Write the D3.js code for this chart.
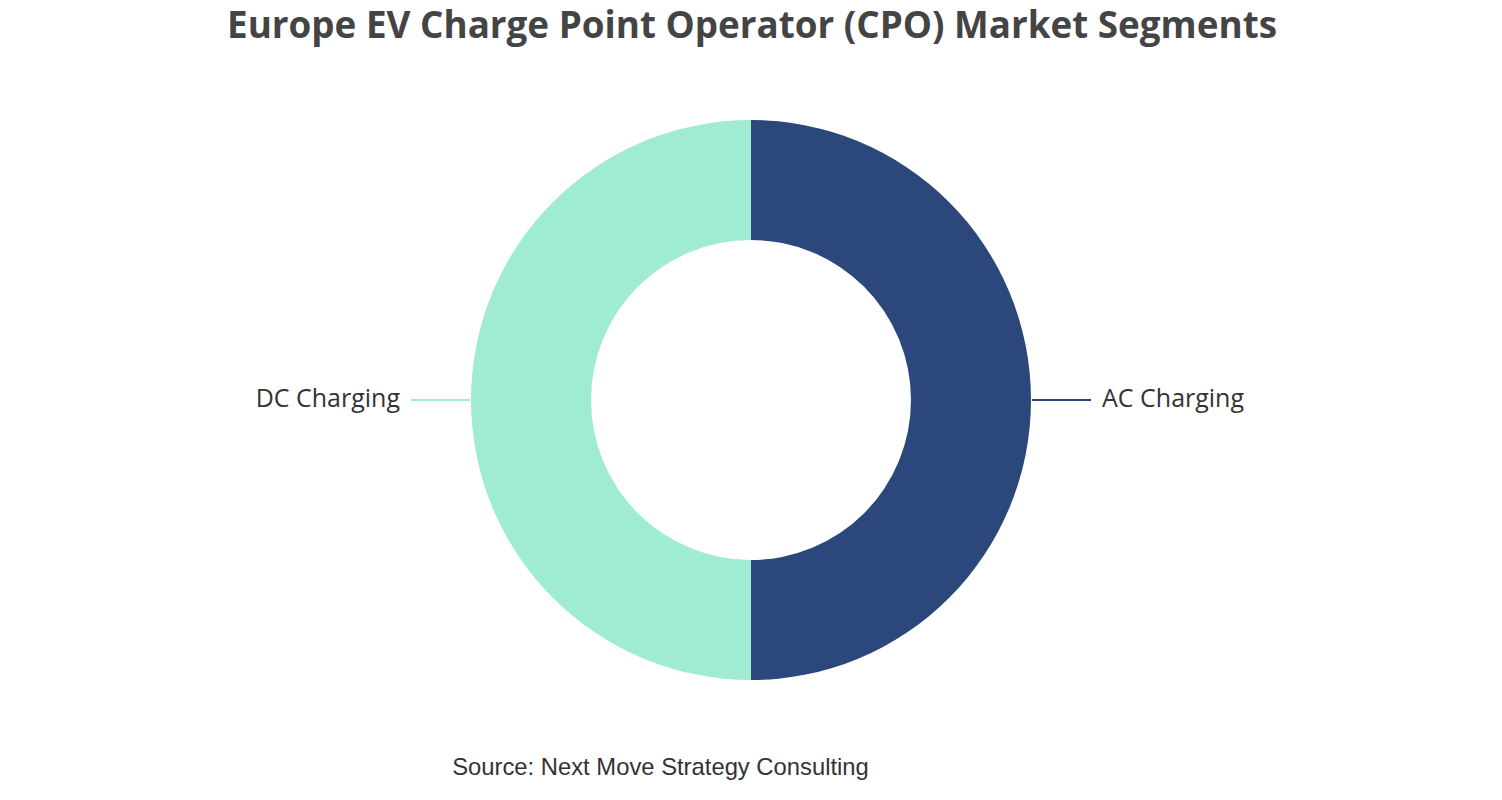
<!DOCTYPE html>
<html>
<head>
<meta charset="utf-8">
<script src="https://cdn.jsdelivr.net/npm/d3@7"></script>
<style>
  body { margin: 0; background: #fff; }
</style>
</head>
<body>
<svg id="chart"></svg>
<script>
// data
const segments = ["AC Charging", "DC Charging"];
const shares = [50, 50];
const segmentColours = ["#2c477b", "#a0ecd2"];
const titleText = "Europe EV Charge Point Operator (CPO) Market Segments";
const sourceText = "Source: Next Move Strategy Consulting";

const width = 1502;
const height = 800;
const cx = 751, cy = 400;
const outerR = 280, innerR = 160;

const svg = d3.select("#chart").attr("width", width).attr("height", height);

svg.append("text")
    .attr("x", 752)
    .attr("y", 38)
    .attr("text-anchor", "middle")
    .attr("font-family", "'Open Sans', 'Noto Sans', sans-serif")
    .attr("font-weight", "bold")
    .attr("font-size", 36.8)
    .attr("fill", "#444")
    .text(titleText);

const data = segments.map((s, i) => ({ name: s, value: shares[i], colour: segmentColours[i] }));

const pie = d3.pie().value(d => d.value).sort(null);
const arc = d3.arc().innerRadius(innerR).outerRadius(outerR);

const g = svg.append("g").attr("transform", `translate(${cx},${cy})`);

const arcs = pie(data);
g.selectAll("path.slice")
    .data(arcs)
    .enter()
    .append("path")
        .attr("class", "slice")
        .attr("d", arc)
        .attr("fill", d => d.data.colour);

// leader lines + labels
const lineStart = outerR + 1, lineEnd = outerR + 60, labelGap = 11;
g.selectAll("g.label")
    .data(arcs)
    .enter()
    .append("g")
        .attr("class", "label")
        .each(function(d){
            const mid = (d.startAngle + d.endAngle) / 2;
            const side = Math.sin(mid) >= 0 ? 1 : -1;
            const y = -Math.cos(mid) * outerR;
            const lg = d3.select(this);
            lg.append("line")
                .attr("x1", side * lineStart)
                .attr("y1", y)
                .attr("x2", side * lineEnd)
                .attr("y2", y)
                .attr("stroke", d.data.colour)
                .attr("stroke-width", 2);
            lg.append("text")
                .attr("x", side * (lineEnd + labelGap))
                .attr("y", y - 2)
                .attr("dy", "0.35em")
                .attr("text-anchor", side > 0 ? "start" : "end")
                .attr("font-family", "'Open Sans', 'Noto Sans', sans-serif")
                .attr("font-size", 25)
                .attr("fill", "#333")
                .text(d.data.name);
        });

svg.append("text")
    .attr("x", 660.5)
    .attr("y", 775)
    .attr("text-anchor", "middle")
    .attr("font-family", "'Liberation Sans', Arial, sans-serif")
    .attr("font-size", 23.8)
    .attr("fill", "#333")
    .text(sourceText);
</script>
</body>
</html>
